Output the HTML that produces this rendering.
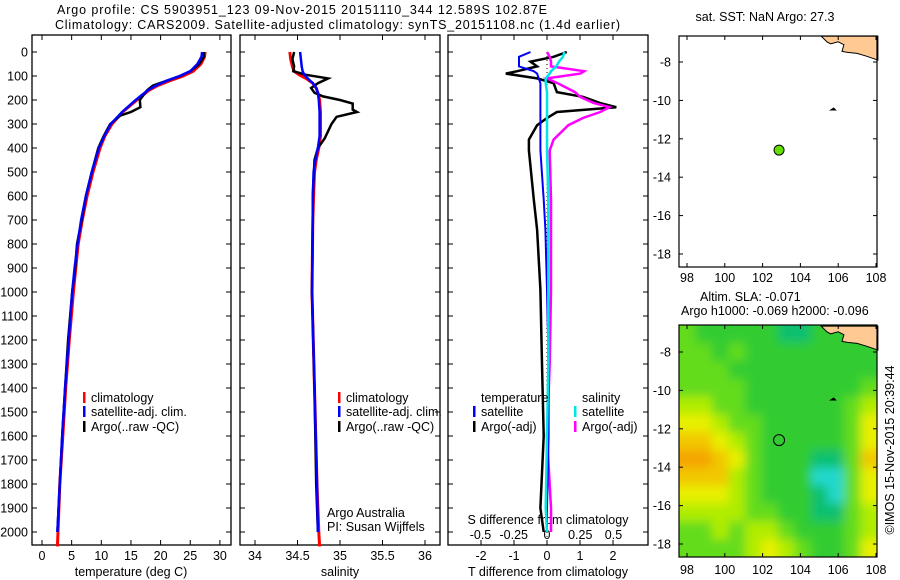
<!DOCTYPE html>
<html><head><meta charset="utf-8">
<style>
html,body{margin:0;padding:0;background:#fff;}
svg{display:block;font-family:"Liberation Sans",sans-serif;}
text{font-size:12.5px;fill:#000;}
</style></head>
<body>
<svg id="fig" width="900" height="580" viewBox="0 0 900 580">
  <defs>
    <clipPath id="clipMap2"><rect x="679" y="325" width="198" height="232"/></clipPath>
    <filter id="blur" x="-5%" y="-5%" width="110%" height="110%"><feGaussianBlur stdDeviation="5"/></filter>
  </defs>
  <text x="57" y="14" textLength="490">Argo profile: CS 5903951_123 09-Nov-2015 20151110_344 12.589S 102.87E</text>
  <text x="55" y="29" textLength="565">Climatology: CARS2009. Satellite-adjusted climatology: synTS_20151108.nc (1.4d earlier)</text>
  <g id="g"></g>
  <text transform="translate(894,450) rotate(-90)" text-anchor="middle">©IMOS 15-Nov-2015 20:39:44</text>
</svg>
<script>
// ---------- data ----------
const depthTicks = [0,100,200,300,400,500,600,700,800,900,1000,1100,1200,1300,1400,1500,1600,1700,1800,1900,2000];
const tempTicks = [0,5,10,15,20,25,30];
const salTicks = [34,34.5,35,35.5,36];
const tdiffTicks = [-2,-1,0,1,2];
const sdiffTicks = [-0.5,-0.25,0,0.25,0.5];
const sdiffLabels = ["-0.5","-0.25","0","0.25","0.5"];

const argoDepth = [0,20,50,80,100,120,140,160,200,230,250,265,300,350,400,500,600,700,800,900,1000,1200,1400,1600,1800,2000];
const argoTemp  = [27.3,27.3,26.5,25.0,23.3,21.0,18.7,17.7,16.5,16.6,15.0,13.2,11.5,10.4,9.5,8.4,7.4,6.7,5.9,5.6,5.1,4.4,3.9,3.4,3.0,2.6];
const climDepth = [0,20,50,80,100,120,140,160,200,250,300,350,400,500,600,700,800,900,1000,1200,1400,1600,1800,2000,2060];
const climTemp  = [27.5,27.4,26.8,25.5,23.8,21.5,19.5,18.0,16.0,13.6,11.8,10.6,9.8,8.6,7.6,6.8,6.1,5.7,5.3,4.6,4.0,3.5,3.0,2.7,2.6];
const satDepth  = [0,20,50,80,100,120,140,160,200,250,300,350,400,500,600,700,800,900,1000,1200,1400,1600,1800,2000];
const satTemp   = [27.0,26.9,26.2,25.0,23.2,21.0,19.2,17.8,15.8,13.5,11.6,10.5,9.6,8.4,7.4,6.6,6.0,5.5,5.1,4.5,3.9,3.4,3.0,2.6];

const argoSalDepth = [0,30,60,80,95,110,130,150,170,185,200,215,240,250,270,300,330,360,400,450,600,700,1000,1400,1800,2000];
const argoSal      = [34.46,34.44,34.46,34.45,34.60,34.86,34.74,34.66,34.70,34.80,35.00,35.15,35.15,35.20,34.96,34.90,34.86,34.82,34.74,34.70,34.68,34.68,34.67,34.70,34.72,34.74];
const climSalDepth = [0,30,60,80,95,110,130,150,170,200,250,300,350,400,450,500,600,700,1000,1400,1800,2000,2060];
const climSal      = [34.41,34.42,34.44,34.46,34.52,34.60,34.68,34.72,34.74,34.76,34.77,34.77,34.77,34.75,34.72,34.70,34.69,34.68,34.67,34.70,34.73,34.75,34.76];
const satSalDepth  = [0,30,60,80,95,110,130,150,170,200,250,300,350,400,450,500,600,700,1000,1400,1800,2000];
const satSal       = [34.53,34.54,34.55,34.56,34.58,34.62,34.68,34.72,34.74,34.75,34.76,34.76,34.76,34.74,34.71,34.69,34.68,34.68,34.67,34.70,34.73,34.74];

const diffDepth = [0,20,40,60,80,90,110,130,167,187,212,230,250,275,305,365,410,615,740,990,1300,1600,1900,2000];
const argoTdiff = [0.6,0.2,-0.5,-0.3,-0.9,-1.25,-0.3,0.2,0.3,1.1,1.6,2.1,0.3,0.0,-0.3,-0.55,-0.55,-0.4,-0.3,-0.2,-0.15,-0.1,-0.2,-0.1];
const satTdiff  = [-0.5,-0.85,-0.85,-0.85,-0.4,-0.3,-0.25,-0.2,-0.2,-0.2,-0.2,-0.2,-0.2,-0.2,-0.2,-0.2,-0.2,-0.1,-0.05,0.0,0.05,0.05,0.0,0.0];
const argoSdiff = [0.0,0.02,0.03,0.03,0.28,0.25,0.0,0.08,0.21,0.25,0.35,0.47,0.40,0.27,0.16,0.05,0.02,0.03,0.03,0.03,0.02,0.0,0.03,0.03];
const satSdiff  = [0.13,0.12,0.09,0.07,0.03,0.02,-0.01,-0.01,0.0,0.0,0.0,0.0,0.0,0.0,0.0,0.0,0.0,0.01,0.01,0.01,0.01,0.0,-0.01,0.0];

const argoLon = 102.87, argoLat = -12.589;
const lonTicks = [98,100,102,104,106,108];
const latTicks = [-8,-10,-12,-14,-16,-18];
const coastLon = [105.1,105.4,105.6,106.0,106.3,106.2,106.5,107.0,107.5,108.1,108.1];
const coastLat = [-6.65,-6.95,-7.05,-6.95,-7.1,-7.45,-7.5,-7.55,-7.7,-7.9,-6.65];
const slaGrid = [
 [3,2,2,2,2,2,1,1,2,2,2,2],
 [3,3,2,3,2,2,2,2,2,2,2,2],
 [3,3,3,2,2,2,2,2,2,2,2,2],
 [3,3,3,3,2,2,2,2,2,2,2,3],
 [4,4,3,3,2,2,2,2,2,2,3,4],
 [5,5,4,3,3,2,2,2,2,2,3,5],
 [6,6,5,4,3,2,2,2,2,2,3,5],
 [7,7,6,5,3,2,2,2,1,1,3,6],
 [6,6,6,4,3,2,2,2,0,0,3,5],
 [5,5,5,4,3,2,2,2,1,0,3,5],
 [4,4,4,4,3,3,2,2,1,1,3,4],
 [3,3,4,3,4,4,3,2,2,2,3,4],
 [3,3,3,3,4,5,4,3,2,2,3,5]
];
const slaColors = ["#22d8cc","#10c070","#30cc30","#64dc1c","#b0ec00","#e8f000","#f2c800","#f4a400"];

// ---------- helpers ----------
const NS="http://www.w3.org/2000/svg";
const G=document.getElementById('g');
function mk(tag,attrs,parent){const e=document.createElementNS(NS,tag);for(const k in attrs)e.setAttribute(k,attrs[k]);(parent||G).appendChild(e);return e;}
function txt(x,y,s,anchor,parent){const e=mk('text',{x:x,y:y,'text-anchor':anchor||'start'},parent);e.textContent=s;return e;}

const yTop=52, yScale=0.24, boxTop=35, boxBot=545;
const yD = d => yTop + d*yScale;
const xT = t => 42 + 5.93*t;
const xS = s => 255 + 85*(s-34);
const xTd = d => 547 + 33*d;
const xSd = d => 547 + 133*d;

function line(xs,ys,fx,color,w,name){
  const pts=xs.map((v,i)=>fx(v).toFixed(1)+','+yD(ys[i]).toFixed(1)).join(' ');
  const p=mk('polyline',{points:pts,fill:'none',stroke:color,'stroke-width':w});
  
  
}

function panel(x0,x1,name){
  const r=mk('rect',{x:x0,y:boxTop,width:x1-x0,height:boxBot-boxTop,fill:'none',stroke:'#000','stroke-width':1.3});
  
  
  depthTicks.forEach(d=>{
    mk('line',{x1:x0,x2:x0+5,y1:yD(d),y2:yD(d),stroke:'#000'});
    mk('line',{x1:x1-5,x2:x1,y1:yD(d),y2:yD(d),stroke:'#000'});
  });
}

depthTicks.forEach(d=>{
  const t=txt(28,yD(d)+4.5,String(d),'end');
  
  
});

// Panel 1
panel(32,231,'temperature-panel');
tempTicks.forEach(t=>{
  mk('line',{x1:xT(t),x2:xT(t),y1:boxBot,y2:boxBot-5,stroke:'#000'});
  mk('line',{x1:xT(t),x2:xT(t),y1:boxTop,y2:boxTop+5,stroke:'#000'});
  const e=txt(xT(t),560,String(t),'middle');
  
  
});
txt(131,576,'temperature (deg C)','middle');
line(climTemp,climDepth,xT,'#ff0000',3,'climatology-temperature-line');
line(argoTemp,argoDepth,xT,'#000000',2.5,'argo-temperature-line');
line(satTemp,satDepth,xT,'#0000ff',2.5,'satellite-temperature-line');

// Panel 2
panel(240,440,'salinity-panel');
salTicks.forEach(s=>{
  mk('line',{x1:xS(s),x2:xS(s),y1:boxBot,y2:boxBot-5,stroke:'#000'});
  mk('line',{x1:xS(s),x2:xS(s),y1:boxTop,y2:boxTop+5,stroke:'#000'});
  const e=txt(xS(s),560,String(s),'middle');
  
  
});
txt(340,576,'salinity','middle');
line(climSal,climSalDepth,xS,'#ff0000',3,'climatology-salinity-line');
line(argoSal,argoSalDepth,xS,'#000000',2.5,'argo-salinity-line');
line(satSal,satSalDepth,xS,'#0000ff',2.5,'satellite-salinity-line');
txt(327,517,'Argo Australia');
txt(327,531,'PI: Susan Wijffels');

// Panel 3
panel(448,648,'difference-panel');
tdiffTicks.forEach(t=>{
  mk('line',{x1:xTd(t),x2:xTd(t),y1:boxBot,y2:boxBot-5,stroke:'#000'});
  mk('line',{x1:xTd(t),x2:xTd(t),y1:boxTop,y2:boxTop+5,stroke:'#000'});
  const e=txt(xTd(t),560,String(t),'middle');
  
  
});
sdiffTicks.forEach((s,i)=>{
  const e=txt(xSd(s),539,sdiffLabels[i],'middle');
  
  
});
txt(548,576,'T difference from climatology','middle');
txt(548,524,'S difference from climatology','middle');
mk('line',{x1:547,x2:547,y1:yTop,y2:boxBot,stroke:'#000','stroke-dasharray':'1,3'});
line(argoTdiff,diffDepth,xTd,'#000000',2.5,'argo-t-difference-line');
line(argoSdiff,diffDepth,xSd,'#ff00ff',2.5,'argo-s-difference-line');
line(satTdiff,diffDepth,xTd,'#0000ff',2,'satellite-t-difference-line');
line(satSdiff,diffDepth,xSd,'#00e5e5',2.5,'satellite-s-difference-line');

function leg(x,y,color,label,name){
  mk('rect',{x:x,y:y-10,width:2.5,height:11,fill:color});
  const t=txt(x+8,y,label);
  
  
}
leg(83,402,'#ff0000','climatology','legend-climatology');
leg(83,416,'#0000ff','satellite-adj. clim.','legend-satellite-adj');
leg(83,431,'#000000','Argo(..raw -QC)','legend-argo');
leg(338,402,'#ff0000','climatology','legend-climatology-sal');
leg(338,416,'#0000ff','satellite-adj. clim.','legend-satellite-adj-sal');
leg(338,431,'#000000','Argo(..raw -QC)','legend-argo-sal');
txt(481,402,'temperature');
txt(582,402,'salinity');
leg(473,416,'#0000ff','satellite','legend-t-satellite');
leg(473,431,'#000000','Argo(-adj)','legend-t-argo');
leg(574,416,'#00e5e5','satellite','legend-s-satellite');
leg(574,431,'#ff00ff','Argo(-adj)','legend-s-argo');

// ---------- maps ----------
const mx0=679,mx1=877;
const xL = lon => 687 + (lon-98)*18.9;
function mapFrame(top,bot,latY,name,lblOff){
  const r=mk('rect',{x:mx0,y:top,width:mx1-mx0,height:bot-top,fill:'none',stroke:'#000','stroke-width':1.2});
  
  
  lonTicks.forEach(l=>{
    mk('line',{x1:xL(l),x2:xL(l),y1:bot,y2:bot-4,stroke:'#000'});
    mk('line',{x1:xL(l),x2:xL(l),y1:top,y2:top+4,stroke:'#000'});
    const e=txt(xL(l),bot+lblOff,String(l),'middle');
    
    
  });
  latTicks.forEach(l=>{
    mk('line',{x1:mx0,x2:mx0+4,y1:latY(l),y2:latY(l),stroke:'#000'});
    mk('line',{x1:mx1-4,x2:mx1,y1:latY(l),y2:latY(l),stroke:'#000'});
    const e=txt(mx0-8,latY(l)+4.5,String(l),'end');
    
    
  });
}
function land(latY,name){
  const pts=coastLon.map((l,i)=>xL(l).toFixed(1)+','+latY(coastLat[i]).toFixed(1)).join(' ');
  const p=mk('polygon',{points:pts,fill:'#ffc994',stroke:'#000','stroke-width':1});
  
  
  mk('path',{d:`M${xL(105.6)} ${latY(-10.5)} l3 -2 l2 2 z`,fill:'#000',stroke:'#000'});
}
const lat1 = l => 62 + (-8-l)*19.2;
txt(765,21,'sat. SST: NaN Argo: 27.3','middle');
land(lat1,'land-java');
const c1=mk('circle',{cx:xL(argoLon),cy:lat1(argoLat),r:5,fill:'#66dd00',stroke:'#000','stroke-width':1});


mapFrame(36,267,lat1,'sst-map',15);

const lat2 = l => 352 + (-8-l)*19.2;
txt(700,301,'Altim. SLA: -0.071');
txt(681,315,'Argo h1000: -0.069 h2000: -0.096');
const hg=mk('g',{'clip-path':'url(#clipMap2)'});
const hb=mk('g',{filter:'url(#blur)'},hg);
const nR=slaGrid.length,nC=slaGrid[0].length;
const cw=(mx1-mx0)/nC, ch=(557-325)/nR;
slaGrid.forEach((row,ri)=>row.forEach((v,ci)=>{
  const c=mk('rect',{x:mx0+ci*cw-(ci===0?12:0),y:325+ri*ch-(ri===0?12:0),width:cw+1+(ci===0||ci===nC-1?12:0),height:ch+1+(ri===0||ri===nR-1?12:0),fill:slaColors[v]},hb);
  
  
}));
land(lat2,'land-java-sla');
const c2=mk('circle',{cx:xL(argoLon),cy:lat2(argoLat),r:5.5,fill:'none',stroke:'#000','stroke-width':1});


mapFrame(325,557,lat2,'sla-map',17);
</script>
</body></html>
